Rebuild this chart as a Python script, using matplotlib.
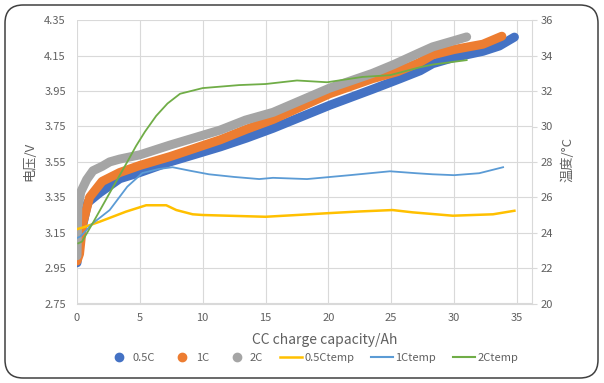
import matplotlib
matplotlib.use("Agg")
import matplotlib.pyplot as plt
from matplotlib.lines import Line2D
from matplotlib.patches import FancyBboxPatch

plt.rcParams['font.family'] = ['Noto Sans CJK SC', 'DejaVu Sans']

# ---- data ----
x_05C = [0, 0.1, 0.37, 0.85, 1.8, 3.4, 5, 7.4, 11.4, 13.5, 15.6, 20.1, 23.5, 25.7, 27.3, 28.3, 30, 32.3, 33.6, 34.8]
v_05C = [2.98, 3.06, 3.165, 3.32, 3.375, 3.455, 3.49, 3.55, 3.635, 3.685, 3.74, 3.87, 3.96, 4.02, 4.065, 4.105, 4.14, 4.175, 4.205, 4.255]

x_1C = [0, 0.2, 0.45, 1.0, 2.0, 3.4, 5, 7.4, 11.4, 13.5, 15.6, 20.1, 23.5, 25.5, 27.2, 28.3, 30, 32.3, 33.8]
v_1C = [2.99, 3.03, 3.2, 3.35, 3.44, 3.49, 3.53, 3.58, 3.675, 3.735, 3.79, 3.935, 4.02, 4.06, 4.11, 4.155, 4.185, 4.215, 4.26]

x_2C = [0, 0.03, 0.06, 0.3, 0.77, 1.27, 2.0, 2.6, 3.4, 5, 7.4, 11.4, 13.4, 15.6, 20.1, 23.5, 25.2, 27.2, 28.3, 30, 31]
v_2C = [3.02, 3.15, 3.29, 3.38, 3.45, 3.50, 3.525, 3.55, 3.566, 3.59, 3.645, 3.73, 3.786, 3.83, 3.967, 4.05, 4.1, 4.165, 4.20, 4.235, 4.256]

x_05Ct = [0, 0.5, 1.8, 3.9, 5.5, 7.1, 7.9, 9.2, 10, 15, 17.5, 19.9, 22.5, 25.1, 26.7, 29.9, 33.1, 34.8]
t_05Ct = [24.2, 24.3, 24.62, 25.19, 25.55, 25.55, 25.28, 25.04, 25.0, 24.9, 25.0, 25.1, 25.2, 25.28, 25.15, 24.96, 25.04, 25.24]

x_1Ct = [0, 0.3, 1.2, 2.6, 4, 5.2, 6.5, 7.6, 9, 10.5, 12.5, 14.5, 15.6, 18.3, 21.7, 24.9, 27, 28.3, 30, 32, 33.9]
t_1Ct = [23.7, 23.8, 24.5, 25.28, 26.6, 27.37, 27.6, 27.7, 27.5, 27.3, 27.15, 27.03, 27.1, 27.03, 27.25, 27.47, 27.36, 27.3, 27.25, 27.36, 27.7]

x_2Ct = [0.1, 0.4, 1.3, 2.8, 4.0, 4.7, 5.4, 6.3, 7.2, 8.2, 10, 12.9, 15, 17.5, 19.9, 22.7, 24.9, 27.3, 28.3, 31]
t_2Ct = [23.4, 23.5, 24.6, 26.5, 28.0, 28.9, 29.7, 30.6, 31.3, 31.85, 32.17, 32.34, 32.4, 32.6, 32.5, 32.8, 32.9, 33.35, 33.5, 33.75]

v_ticks = [2.75, 2.95, 3.15, 3.35, 3.55, 3.75, 3.95, 4.15, 4.35]
t_ticks = [20, 22, 24, 26, 28, 30, 32, 34, 36]
x_ticks = [0, 5, 10, 15, 20, 25, 30, 35]

# ---- figure ----
W, H = 604, 383
fig = plt.figure(figsize=(W / 100, H / 100), dpi=100)
ax = fig.add_axes([77 / W, 1 - 303.5 / H, (532 - 77) / W, (303.5 - 20.3) / H])
ax2 = ax.twinx()

tick_color = '#606060'
grid_color = '#d9d9d9'

c_blue, c_orange, c_gray = '#4472C4', '#ED7D31', '#A5A5A5'
c_yellow, c_lblue, c_green = '#FFC000', '#5B9BD5', '#70AD47'

for xs, ys, c in [(x_05C, v_05C, c_blue), (x_1C, v_1C, c_orange), (x_2C, v_2C, c_gray)]:
    ax.plot(xs, ys, color=c, lw=6.5, solid_capstyle='round', solid_joinstyle='round')

ax2.plot(x_05Ct, t_05Ct, color=c_yellow, lw=1.8)
ax2.plot(x_1Ct, t_1Ct, color=c_lblue, lw=1.3)
ax2.plot(x_2Ct, t_2Ct, color=c_green, lw=1.3)

ax.set_xlim(0, 36.2)
ax.set_ylim(2.75, 4.35)
ax2.set_ylim(20, 36)
ax.set_xticks(x_ticks)
ax.set_yticks(v_ticks)
ax.set_yticklabels([f"{v:.2f}" for v in v_ticks])
ax2.set_yticks(t_ticks)

ax.grid(True, color=grid_color, lw=0.8)
ax.set_axisbelow(True)
for s in ['top', 'left', 'bottom', 'right']:
    ax.spines[s].set_visible(False)
    ax2.spines[s].set_visible(False)
ax.spines['bottom'].set_visible(True)
ax.spines['bottom'].set_color(grid_color)
ax.spines['bottom'].set_linewidth(0.8)
ax2.spines['right'].set_visible(True)
ax2.spines['right'].set_color(grid_color)
ax2.spines['right'].set_linewidth(0.8)

ax.tick_params(axis='y', length=0, pad=8, labelsize=8, labelcolor=tick_color)
ax.tick_params(axis='x', length=0, pad=7, labelsize=8, labelcolor=tick_color)
ax2.tick_params(axis='y', length=3.5, width=0.8, color=grid_color, pad=3, labelsize=8, labelcolor=tick_color)

fig.text(30 / W, 1 - 161 / H, '电压/V', rotation=90, ha='center', va='center', fontsize=9.5, color=tick_color)
fig.text(568 / W, 1 - 160 / H, '温度/°C', rotation=90, ha='center', va='center', fontsize=9.5, color=tick_color)
fig.text(325 / W, 1 - 340 / H, 'CC charge capacity/Ah', ha='center', va='center', fontsize=10, color=tick_color)

handles = [
    Line2D([], [], ls='none', marker='o', ms=6, color=c_blue),
    Line2D([], [], ls='none', marker='o', ms=6, color=c_orange),
    Line2D([], [], ls='none', marker='o', ms=6, color=c_gray),
    Line2D([], [], color=c_yellow, lw=1.8),
    Line2D([], [], color=c_lblue, lw=1.5),
    Line2D([], [], color=c_green, lw=1.5),
]
labels = ['0.5C', '1C', '2C', '0.5Ctemp', '1Ctemp', '2Ctemp']
leg = fig.legend(handles, labels, loc='center', bbox_to_anchor=(313 / W, 1 - 358 / H), ncol=6,
                 frameon=False, fontsize=8, handlelength=2.0, handletextpad=0.2, columnspacing=1.5,
                 labelcolor=tick_color)

border = FancyBboxPatch((5 / W, 5 / H), (598 - 5) / W, (378 - 5) / H,
                        boxstyle='round,pad=0,rounding_size=0.03', transform=fig.transFigure,
                        facecolor='none', edgecolor='#404040', lw=1.1, mutation_aspect=W / H)
fig.patches.append(border)

fig.savefig('out.png', dpi=100)
